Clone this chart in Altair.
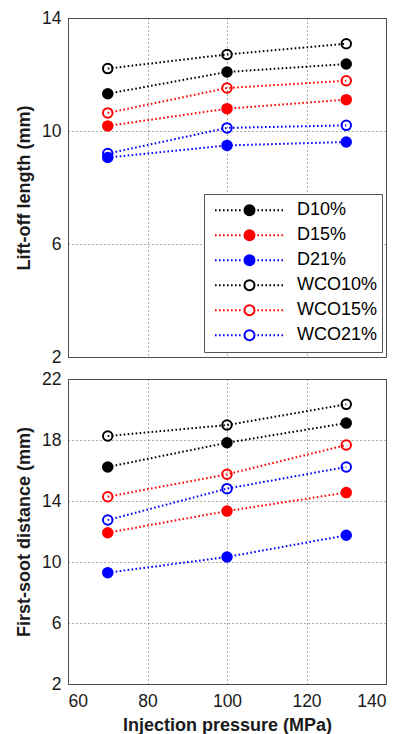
import altair as alt
import pandas as pd

pressure = [70, 100, 130]
series = ["D10%", "D15%", "D21%", "WCO10%", "WCO15%", "WCO21%"]
colors = ["black", "red", "blue", "black", "red", "blue"]
fills = ["black", "red", "blue", "transparent", "transparent", "transparent"]

liftoff = {
    "D10%": [11.32, 12.09, 12.37],
    "D15%": [10.18, 10.79, 11.11],
    "D21%": [9.06, 9.49, 9.61],
    "WCO10%": [12.21, 12.71, 13.09],
    "WCO15%": [10.64, 11.52, 11.78],
    "WCO21%": [9.20, 10.11, 10.20],
}
firstsoot = {
    "D10%": [16.23, 17.82, 19.11],
    "D15%": [11.92, 13.34, 14.55],
    "D21%": [9.30, 10.33, 11.75],
    "WCO10%": [18.26, 18.98, 20.34],
    "WCO15%": [14.28, 15.75, 17.67],
    "WCO21%": [12.75, 14.81, 16.23],
}
x_ticks = [60, 80, 100, 120, 140]
top_ticks = [2, 6, 10, 14]
bot_ticks = [2, 6, 10, 14, 18, 22]

rows = []
for s in series:
    for i, p in enumerate(pressure):
        rows.append({"series": s, "p": p, "lift": liftoff[s][i], "soot": firstsoot[s][i]})
df = pd.DataFrame(rows)

FONT = "Liberation Sans"

half = 34.5
c = 5.0 / half
per = 4.0 / half
dash = 1.6 / half


def dotted(a, b):
    out = []
    x = a
    while x < b - 1e-9:
        e = min(x + dash, b)
        out.append(f"M{x:.4f},0H{e:.4f}")
        x += per
    return "".join(out)


gap = 0.23
circle = f"M{c:.4f},0A{c:.4f},{c:.4f} 0 1,1 {-c:.4f},0A{c:.4f},{c:.4f} 0 1,1 {c:.4f},0Z"
sym_path = dotted(-1, -gap) + dotted(gap, 1) + circle

legend = alt.Legend(
    orient="none",
    legendX=136,
    legendY=176,
    symbolType=sym_path,
    symbolSize=(2 * half) ** 2,
    symbolStrokeWidth=2,
    symbolOffset=6,
    clipHeight=24.3,
    labelFont=FONT,
    labelFontSize=18,
    labelColor="black",
    labelOffset=12,
    strokeColor="#555",
    fillColor="white",
    padding=4,
    rowPadding=0,
)

stroke_scale = alt.Scale(domain=series, range=colors)
fill_scale = alt.Scale(domain=series, range=fills)
xscale = alt.Scale(domain=[60, 140], nice=False)


def panel(field, ytitle, ydom, yticks, height, bottom):
    base = alt.Chart(df)
    x_axis = alt.Axis(
        values=x_ticks,
        title="Injection pressure (MPa)" if bottom else None,
        labels=bottom,
        ticks=False,
        domain=False,
        grid=True,
        labelPadding=8,
        titlePadding=7,
    )
    y_axis = alt.Axis(
        values=yticks,
        title=ytitle,
        ticks=False,
        domain=False,
        grid=True,
        labelPadding=7,
        titlePadding=8,
    )
    x = alt.X("p:Q", scale=xscale, axis=x_axis)
    y = alt.Y(f"{field}:Q", scale=alt.Scale(domain=ydom, nice=False, zero=False), axis=y_axis)
    lines = base.mark_line(strokeWidth=2, strokeDash=[1.6, 2.4], strokeCap="butt").encode(
        x=x,
        y=y,
        stroke=alt.Stroke("series:N", scale=stroke_scale, legend=legend, title=None),
        detail="series:N",
    )
    pts = base.mark_point(shape="circle", size=90, strokeWidth=2, opacity=1, fillOpacity=1).encode(
        x=x,
        y=y,
        stroke=alt.Stroke("series:N", scale=stroke_scale, legend=legend, title=None),
        fill=alt.Fill("series:N", scale=fill_scale, legend=legend, title=None),
    )
    return alt.layer(lines, pts).properties(width=318, height=height)


top = panel("lift", "Lift-off length (mm)", [2, 14], top_ticks, 339, False)
bot = panel("soot", "First-soot distance (mm)", [2, 22], bot_ticks, 305, True)

chart = (
    alt.vconcat(top, bot, spacing=3)
    .properties(padding={"left": 7, "top": 0, "right": 5, "bottom": 0}, background="white")
    .configure_view(stroke="#555", strokeWidth=1)
    .configure_axis(
        labelFont=FONT,
        labelFontSize=17.5,
        labelColor="#1a1a1a",
        titleFont=FONT,
        titleFontSize=18,
        titleFontWeight="bold",
        titleColor="#1a1a1a",
        gridColor="#333",
        gridDash=[1, 3],
        gridWidth=1,
        gridOpacity=0.8,
    )
)

chart.save("out.html", embed_options={"renderer": "svg", "actions": False})
